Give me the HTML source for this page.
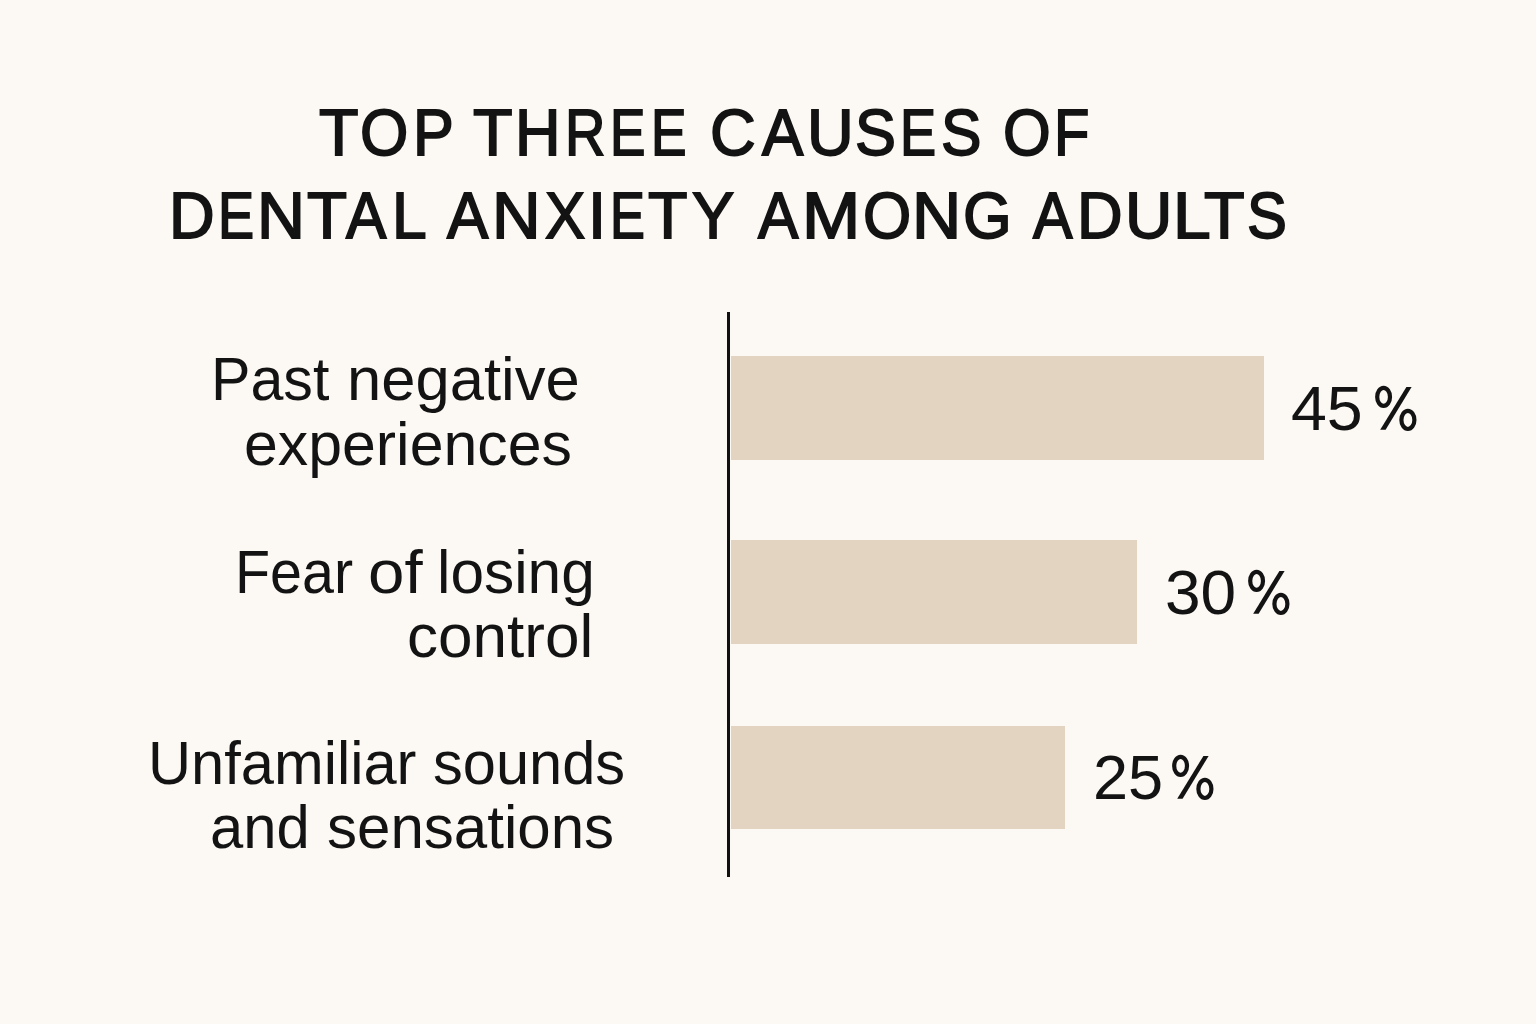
<!DOCTYPE html>
<html><head><meta charset="utf-8">
<style>
html,body{margin:0;padding:0;}
body{width:1536px;height:1024px;background:#fcf9f4;position:relative;overflow:hidden;font-family:"Liberation Sans",sans-serif;color:#131313;}
.t{position:absolute;white-space:nowrap;line-height:0;height:0;transform-origin:0 0;}
.title{font-size:65.5px;-webkit-text-stroke:1.8px #131313;}
.lab{font-size:61px;}
.pct{font-size:63.5px;}
.bar{position:absolute;left:731px;background:#e2d4c0;}
.pc{position:absolute;overflow:visible;}
.axis{position:absolute;left:727px;top:312px;width:3px;height:565px;background:#111111;}
</style></head><body>
<div id="a0" class="t title" style="left:318.60px;top:133px;transform:scaleX(0.9875);">T</div>
<div id="a1" class="t title" style="left:360.30px;top:133px;transform:scaleX(0.9478);">O</div>
<div id="a2" class="t title" style="left:412.51px;top:133px;transform:scaleX(0.9334);">P</div>
<div id="a3" class="t title" style="left:472.78px;top:133px;transform:scaleX(0.9885);">T</div>
<div id="a4" class="t title" style="left:515.15px;top:133px;transform:scaleX(0.9627);">H</div>
<div id="a5" class="t title" style="left:565.13px;top:133px;transform:scaleX(0.8545);">R</div>
<div id="a6" class="t title" style="left:610.36px;top:133px;transform:scaleX(0.8108);">E</div>
<div id="a7" class="t title" style="left:651.33px;top:133px;transform:scaleX(0.8124);">E</div>
<div id="a8" class="t title" style="left:710.49px;top:133px;transform:scaleX(0.9662);">C</div>
<div id="a9" class="t title" style="left:762.15px;top:133px;transform:scaleX(0.9450);">A</div>
<div id="a10" class="t title" style="left:807.05px;top:133px;transform:scaleX(0.9875);">U</div>
<div id="a11" class="t title" style="left:855.16px;top:133px;transform:scaleX(0.9363);">S</div>
<div id="a12" class="t title" style="left:900.44px;top:133px;transform:scaleX(0.8259);">E</div>
<div id="a13" class="t title" style="left:941.15px;top:133px;transform:scaleX(0.9258);">S</div>
<div id="a14" class="t title" style="left:1002.94px;top:133px;transform:scaleX(0.9362);">O</div>
<div id="a15" class="t title" style="left:1053.79px;top:133px;transform:scaleX(0.8836);">F</div>
<div id="b0" class="t title" style="left:169.34px;top:216px;transform:scaleX(0.9645);">D</div>
<div id="b1" class="t title" style="left:218.44px;top:216px;transform:scaleX(0.8259);">E</div>
<div id="b2" class="t title" style="left:257.13px;top:216px;transform:scaleX(1.0135);">N</div>
<div id="b3" class="t title" style="left:307.00px;top:216px;transform:scaleX(1.0014);">T</div>
<div id="b4" class="t title" style="left:346.15px;top:216px;transform:scaleX(0.9232);">A</div>
<div id="b5" class="t title" style="left:392.21px;top:216px;transform:scaleX(0.9522);">L</div>
<div id="b6" class="t title" style="left:447.37px;top:216px;transform:scaleX(0.9452);">A</div>
<div id="b7" class="t title" style="left:492.06px;top:216px;transform:scaleX(1.0275);">N</div>
<div id="b8" class="t title" style="left:544.63px;top:216px;transform:scaleX(0.9192);">X</div>
<div id="b9" class="t title" style="left:588.19px;top:216px;transform:scaleX(0.9921);">I</div>
<div id="b10" class="t title" style="left:609.92px;top:216px;transform:scaleX(0.7986);">E</div>
<div id="b11" class="t title" style="left:648.42px;top:216px;transform:scaleX(0.9875);">T</div>
<div id="b12" class="t title" style="left:692.22px;top:216px;transform:scaleX(0.9660);">Y</div>
<div id="b13" class="t title" style="left:757.52px;top:216px;transform:scaleX(0.9247);">A</div>
<div id="b14" class="t title" style="left:802.04px;top:216px;transform:scaleX(1.0672);">M</div>
<div id="b15" class="t title" style="left:862.53px;top:216px;transform:scaleX(0.9464);">O</div>
<div id="b16" class="t title" style="left:911.59px;top:216px;transform:scaleX(1.0404);">N</div>
<div id="b17" class="t title" style="left:962.72px;top:216px;transform:scaleX(0.9557);">G</div>
<div id="b18" class="t title" style="left:1032.50px;top:216px;transform:scaleX(0.9031);">A</div>
<div id="b19" class="t title" style="left:1077.17px;top:216px;transform:scaleX(0.9643);">D</div>
<div id="b20" class="t title" style="left:1124.79px;top:216px;transform:scaleX(1.0008);">U</div>
<div id="b21" class="t title" style="left:1173.01px;top:216px;transform:scaleX(1.0355);">L</div>
<div id="b22" class="t title" style="left:1203.99px;top:216px;transform:scaleX(1.0144);">T</div>
<div id="b23" class="t title" style="left:1247.17px;top:216px;transform:scaleX(0.9135);">S</div>
<div id="w_past" class="t lab" style="left:210.55px;top:379px;transform:scaleX(0.9700);">Past</div>
<div id="w_neg" class="t lab" style="left:346.96px;top:379px;transform:scaleX(1.0090);">negative</div>
<div id="w_exp" class="t lab" style="left:244.01px;top:444px;transform:scaleX(0.9969);">experiences</div>
<div id="w_fear" class="t lab" style="left:235.09px;top:572px;transform:scaleX(0.9413);">Fear</div>
<div id="w_of" class="t lab" style="left:367.58px;top:572px;transform:scaleX(1.0735);">of</div>
<div id="w_los" class="t lab" style="left:437.04px;top:572px;transform:scaleX(0.9901);">losing</div>
<div id="w_con" class="t lab" style="left:407.15px;top:636px;transform:scaleX(1.0171);">control</div>
<div id="w_unf" class="t lab" style="left:148.31px;top:763px;transform:scaleX(0.9777);">Unfamiliar</div>
<div id="w_snd" class="t lab" style="left:432.85px;top:763px;transform:scaleX(0.9766);">sounds</div>
<div id="w_and" class="t lab" style="left:210.26px;top:827px;transform:scaleX(0.9791);">and</div>
<div id="w_sen" class="t lab" style="left:327.23px;top:827px;transform:scaleX(0.9843);">sensations</div>
<div id="p1" class="t pct" style="left:1291.19px;top:408px;transform:scaleX(1.0156);">45</div>
<div id="p2" class="t pct" style="left:1165.19px;top:592px;transform:scaleX(1.0078);">30</div>
<div id="p3" class="t pct" style="left:1093.21px;top:777px;transform:scaleX(0.9927);">25</div>
<svg class="pc" style="left:1373.10px;top:384.00px;" width="46" height="48" viewBox="-2 -46 46 48"><ellipse cx="8.6" cy="-33.1" rx="6.4" ry="9" fill="none" stroke="#131313" stroke-width="4.2"/><ellipse cx="32.9" cy="-10.1" rx="6.5" ry="9.1" fill="none" stroke="#131313" stroke-width="4.2"/><polygon points="31.4,-43 36.6,-43 10.6,-0.3 5.2,-0.3" fill="#131313"/></svg>
<svg class="pc" style="left:1245.80px;top:568.20px;" width="46" height="48" viewBox="-2 -46 46 48"><ellipse cx="8.6" cy="-33.1" rx="6.4" ry="9" fill="none" stroke="#131313" stroke-width="4.2"/><ellipse cx="32.9" cy="-10.1" rx="6.5" ry="9.1" fill="none" stroke="#131313" stroke-width="4.2"/><polygon points="31.4,-43 36.6,-43 10.6,-0.3 5.2,-0.3" fill="#131313"/></svg>
<svg class="pc" style="left:1169.90px;top:752.60px;" width="46" height="48" viewBox="-2 -46 46 48"><ellipse cx="8.6" cy="-33.1" rx="6.4" ry="9" fill="none" stroke="#131313" stroke-width="4.2"/><ellipse cx="32.9" cy="-10.1" rx="6.5" ry="9.1" fill="none" stroke="#131313" stroke-width="4.2"/><polygon points="31.4,-43 36.6,-43 10.6,-0.3 5.2,-0.3" fill="#131313"/></svg>
<div class="axis"></div>
<div class="bar" style="top:356px;width:533px;height:104px;"></div>
<div class="bar" style="top:540px;width:406px;height:104px;"></div>
<div class="bar" style="top:726px;width:334px;height:103px;"></div>
</body></html>
